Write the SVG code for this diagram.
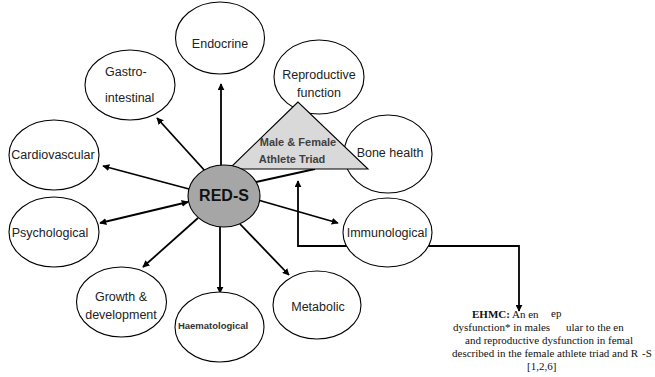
<svg xmlns="http://www.w3.org/2000/svg" width="655" height="377" viewBox="0 0 655 377">
<defs>
<marker id="ah" viewBox="0 0 10 10" refX="9" refY="5" markerWidth="7" markerHeight="7" markerUnits="userSpaceOnUse" orient="auto-start-reverse">
<path d="M0,0 L10,5 L0,10 z" fill="#000"/>
</marker>
<style>
.n{fill:#fff;stroke:#000;stroke-width:1.1}
.t{font-family:"Liberation Sans",Arial,sans-serif;font-size:12.5px;fill:#222;text-anchor:middle}
.c{stroke:#000;stroke-width:1.8;fill:none}
.a{marker-end:url(#ah)}
.e{font-family:"Liberation Serif","Times New Roman",serif;font-size:11px;fill:#111}
</style>
</defs>
<rect width="655" height="377" fill="#fff"/>
<g id="connectors">
<line class="c a" x1="221" y1="166" x2="221" y2="84"/>
<line class="c a" x1="206" y1="172" x2="157" y2="118"/>
<line class="c a" x1="189" y1="189" x2="103" y2="166"/>
<line class="c a" x1="100" y1="223" x2="188" y2="202" style="marker-start:url(#ah)"/>
<line class="c a" x1="198" y1="218" x2="143" y2="267"/>
<line class="c a" x1="220" y1="227" x2="220" y2="293"/>
<line class="c a" x1="240" y1="224" x2="289" y2="275"/>
<line class="c a" x1="258" y1="200" x2="338" y2="223"/>
<line class="c" x1="256" y1="182" x2="315" y2="169"/>
<polyline class="c a" points="298,181 298,246 519,246 519,311" style="marker-start:url(#ah)"/>
</g>
<g id="endocrine"><ellipse class="n" cx="220" cy="38" rx="44.5" ry="36"/><text class="t" x="220" y="48">Endocrine</text></g>
<g id="reproductive"><ellipse class="n" cx="319" cy="77" rx="45" ry="37"/><text class="t" x="319" y="79">Reproductive</text><text class="t" x="319" y="97">function</text></g>
<g id="gastro"><ellipse class="n" cx="130" cy="85" rx="45" ry="35"/><text class="t" x="105" y="76" style="text-anchor:start">Gastro-</text><text class="t" x="105" y="102" style="text-anchor:start">intestinal</text></g>
<g id="cardiovascular"><ellipse class="n" cx="54" cy="155" rx="45" ry="35"/><text class="t" x="53" y="159">Cardiovascular</text></g>
<g id="psychological"><ellipse class="n" cx="54" cy="232" rx="45" ry="35"/><text class="t" x="50" y="237">Psychological</text></g>
<g id="growth"><ellipse class="n" cx="121.5" cy="302" rx="45" ry="35"/><text class="t" x="121" y="301">Growth &amp;</text><text class="t" x="121" y="319">development</text></g>
<g id="haematological"><ellipse class="n" cx="219.5" cy="327" rx="44.5" ry="35"/><text class="t" x="213" y="329" style="font-size:9.5px;font-weight:bold;fill:#333">Haematological</text></g>
<g id="metabolic"><ellipse class="n" cx="317" cy="305" rx="44" ry="34"/><text class="t" x="318" y="311">Metabolic</text></g>
<g id="immunological"><ellipse class="n" cx="387.5" cy="232.5" rx="44.5" ry="34.5"/><text class="t" x="387" y="237">Immunological</text></g>
<g id="bone"><ellipse class="n" cx="388" cy="154" rx="44" ry="39"/><text class="t" x="390" y="157">Bone health</text></g>
<g id="triad"><polygon points="298,102 229,169 368,169" fill="#d9d9d9" stroke="#000" stroke-width="1.1"/><text class="t" x="298" y="146" style="font-size:11px;font-weight:bold;fill:#404040">Male &amp; Female</text><text class="t" x="292" y="163" style="font-size:11px;font-weight:bold;fill:#404040">Athlete Triad</text></g>
<g id="reds"><ellipse cx="224" cy="196" rx="36" ry="31" fill="#a6a6a6" stroke="#000" stroke-width="1.1"/><text class="t" x="224" y="201" style="font-size:16px;font-weight:bold;fill:#111">RED-S</text></g>
<g id="ehmc">
<text class="e" x="472" y="318"><tspan font-weight="bold">EHMC:</tspan> An en</text>
<text class="e" x="551" y="317" fill="#aaa" font-size="8">ep</text>
<text class="e" x="453" y="331">dysfunction* in males</text>
<text class="e" x="566" y="331">ular to the en</text>
<text class="e" x="465" y="344">and reproductive dysfunction in femal</text>
<text class="e" x="452" y="357">described in the female athlete triad and R</text>
<text class="e" x="642" y="357">-S</text>
<text class="e" x="527" y="370">[1,2,6]</text>
</g>
</svg>
